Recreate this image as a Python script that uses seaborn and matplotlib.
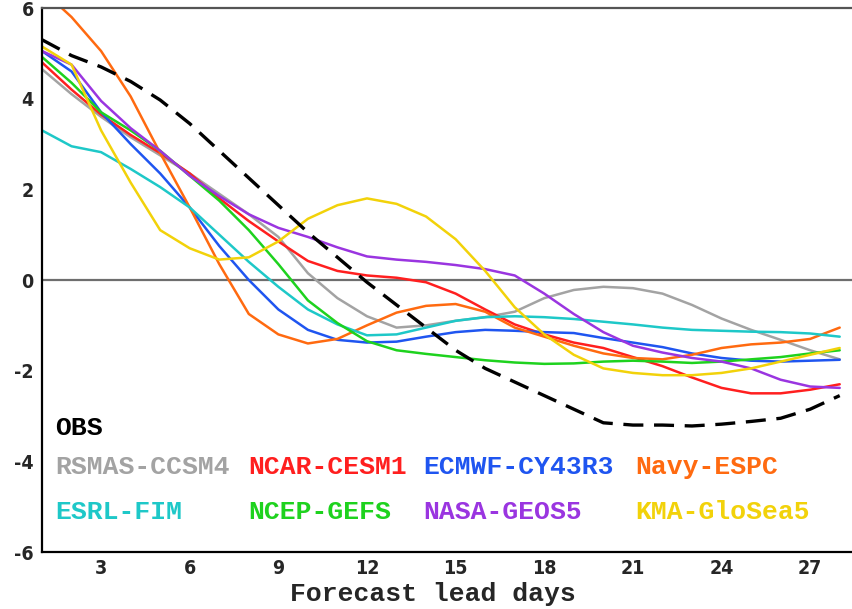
import numpy as np
import pandas as pd
import matplotlib
matplotlib.use("Agg")
import matplotlib.pyplot as plt
import seaborn as sns

days = list(range(1, 29))

obs = [5.3, 4.95, 4.7, 4.38, 3.97, 3.45, 2.85, 2.25, 1.65, 1.05, 0.5, -0.05, -0.55, -1.05,
       -1.55, -1.95, -2.25, -2.55, -2.85, -3.15, -3.2, -3.2, -3.22, -3.18, -3.12, -3.05, -2.85, -2.55]
rsmas = [4.65, 4.1, 3.6, 3.15, 2.75, 2.35, 1.9, 1.45, 0.95, 0.15, -0.4, -0.8, -1.05, -1.0,
         -0.9, -0.82, -0.7, -0.4, -0.22, -0.15, -0.18, -0.3, -0.55, -0.85, -1.1, -1.32, -1.55, -1.75]
ncar = [4.8, 4.2, 3.65, 3.2, 2.8, 2.35, 1.8, 1.3, 0.85, 0.42, 0.2, 0.1, 0.05, -0.05,
        -0.3, -0.65, -0.98, -1.2, -1.38, -1.5, -1.7, -1.9, -2.15, -2.38, -2.5, -2.5, -2.42, -2.3]
ecmwf = [5.05, 4.6, 3.7, 3.0, 2.35, 1.6, 0.75, 0.0, -0.65, -1.1, -1.32, -1.38, -1.36, -1.25,
         -1.15, -1.1, -1.12, -1.15, -1.17, -1.28, -1.38, -1.48, -1.62, -1.72, -1.78, -1.8, -1.78, -1.76]
navy = [6.4, 5.8, 5.05, 4.05, 2.8, 1.6, 0.35, -0.75, -1.2, -1.4, -1.3, -1.0, -0.72, -0.57,
        -0.53, -0.7, -1.05, -1.25, -1.45, -1.62, -1.72, -1.75, -1.65, -1.5, -1.42, -1.38, -1.3, -1.05]
esrl = [3.3, 2.95, 2.82, 2.45, 2.05, 1.6, 1.0, 0.4, -0.15, -0.65, -0.98, -1.22, -1.2, -1.05,
        -0.9, -0.82, -0.8, -0.82, -0.86, -0.92, -0.98, -1.05, -1.1, -1.12, -1.14, -1.15, -1.18, -1.25]
ncep = [4.92, 4.35, 3.7, 3.3, 2.85, 2.3, 1.75, 1.1, 0.35, -0.45, -0.95, -1.35, -1.55, -1.63,
        -1.7, -1.77, -1.82, -1.85, -1.84, -1.8, -1.78, -1.8, -1.83, -1.8, -1.75, -1.7, -1.62, -1.55]
nasa = [5.05, 4.75, 3.95, 3.35, 2.85, 2.3, 1.85, 1.45, 1.15, 0.95, 0.72, 0.52, 0.45, 0.4,
        0.33, 0.24, 0.1, -0.3, -0.75, -1.15, -1.45, -1.6, -1.72, -1.8, -1.95, -2.2, -2.35, -2.38]
kma = [5.15, 4.75, 3.3, 2.15, 1.1, 0.7, 0.45, 0.5, 0.85, 1.35, 1.65, 1.8, 1.68, 1.4,
       0.9, 0.2, -0.6, -1.2, -1.65, -1.95, -2.05, -2.1, -2.1, -2.05, -1.95, -1.8, -1.65, -1.5]

models = ["RSMAS-CCSM4", "NCAR-CESM1", "ECMWF-CY43R3", "Navy-ESPC",
          "ESRL-FIM", "NCEP-GEFS", "NASA-GEOS5", "KMA-GloSea5"]
series = [rsmas, ncar, ecmwf, navy, esrl, ncep, nasa, kma]
colors = ["#a3a3a3", "#ff1f1f", "#1f55f0", "#ff6a10",
          "#1ec8c8", "#1ed21e", "#9a35e0", "#f2d20a"]
xticks = [3, 6, 9, 12, 15, 18, 21, 24, 27]
yticks = [-6, -4, -2, 0, 2, 4, 6]

df = pd.DataFrame({
    "day": days * len(models),
    "value": sum(series, []),
    "model": sum([[m] * len(days) for m in models], []),
})
obs_df = pd.DataFrame({"day": days, "value": obs})

sns.set_style("white")
fig = plt.figure(figsize=(8.53, 6.09), dpi=100)
ax = fig.add_axes([42 / 853, 1 - 552 / 609, 811 / 853, 544 / 609])

ax.axhline(0, color="#6e6e6e", lw=1.6, zorder=1)
sns.lineplot(data=df, x="day", y="value", hue="model", hue_order=models,
             palette=dict(zip(models, colors)), lw=1.8, ax=ax, legend=False, zorder=2)
sns.lineplot(data=obs_df, x="day", y="value", color="black", lw=2.4, ax=ax,
             legend=False, zorder=3, dashes=False)
ax.lines[-1].set_dashes([6, 3.2])

ax.set_xlim(1, 28.45)
ax.set_ylim(-6, 6)
ax.set_xticks(xticks)
ax.set_yticks(yticks)
tick_font = dict(family="DejaVu Sans", weight="bold", stretch="condensed", size=14)
ax.set_xticklabels([str(t) for t in xticks], **tick_font)
ax.set_yticklabels([str(t) for t in yticks], **tick_font)
ax.tick_params(axis="x", direction="inout", length=6, width=1.5, color="black", pad=2)
ax.tick_params(axis="y", direction="out", length=4, width=1.5, color="black", pad=2)
for s in ["left", "bottom", "top"]:
    ax.spines[s].set_color("black")
    ax.spines[s].set_linewidth(1.6)
ax.spines["top"].set_color("#555555")
ax.spines["right"].set_visible(False)

lab_font = dict(family="Liberation Mono", weight="bold", size=19)
ax.set_xlabel("Forecast lead days", **lab_font)
ax.xaxis.set_label_coords((433 - 42) / 811, -(594 - 552) / 544)
ax.xaxis.label.set_va("center")
ax.set_ylabel("")

ax.text(0.016, 0.228, "OBS", color="black", transform=ax.transAxes, va="center", ha="left", **lab_font)
col_x = [0.016, 0.254, 0.470, 0.731]
row_y = [0.156, 0.0735]
for i, (m, c) in enumerate(zip(models, colors)):
    ax.text(col_x[i % 4], row_y[i // 4], m, color=c, transform=ax.transAxes,
            va="center", ha="left", **lab_font)

fig.savefig("out.png", dpi=100)
